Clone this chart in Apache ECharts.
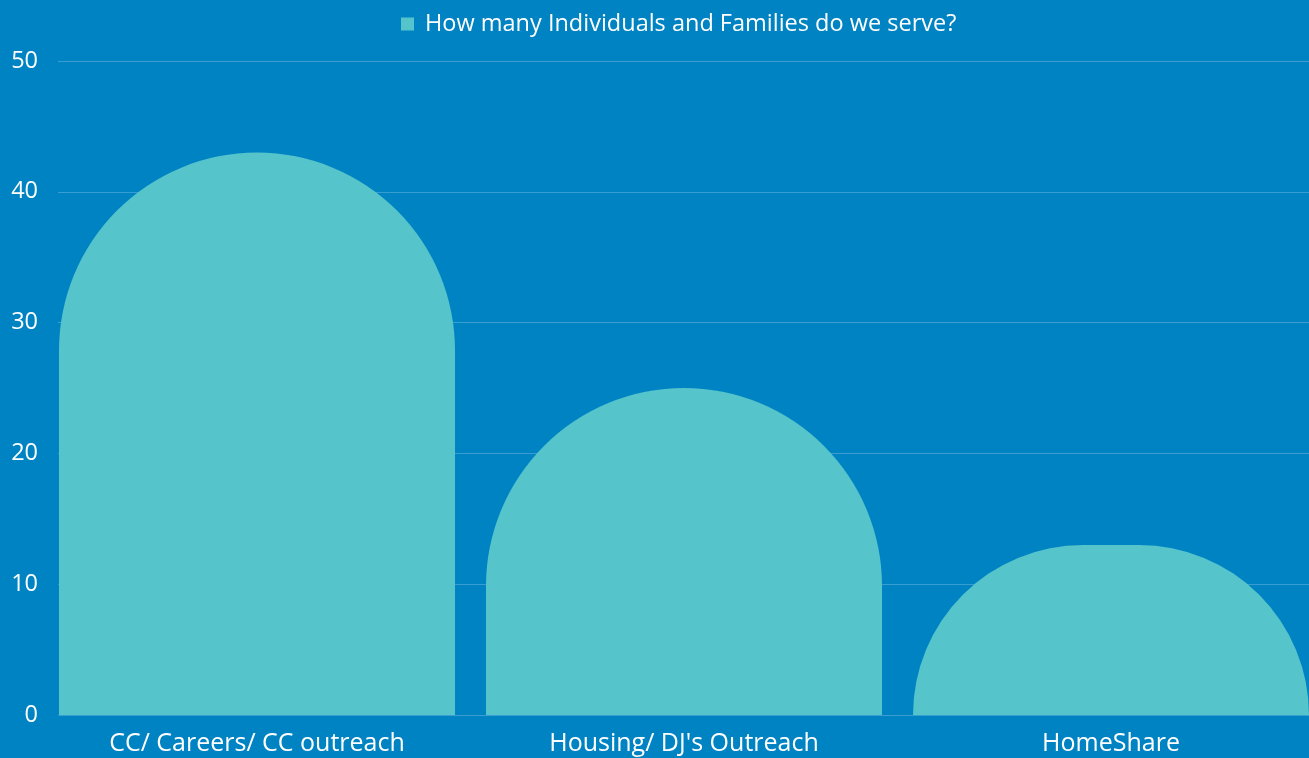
<!DOCTYPE html>
<html><head><meta charset="utf-8">
<script src="https://cdn.jsdelivr.net/npm/echarts@6/dist/echarts.min.js"></script>
<style>html,body{margin:0;padding:0;background:#0083C2;}#c{width:1309px;height:758px;}</style>
</head><body><div id="c"></div>
<script>
const categories = ["CC/ Careers/ CC outreach", "Housing/ DJ's Outreach", "HomeShare"];
const seriesName = "How many Individuals and Families do we serve?";
const values = [43, 25, 13];
const yTicks = [0, 10, 20, 30, 40, 50];

const FONT = "Open Sans";
const chart = echarts.init(document.getElementById('c'));
chart.setOption({
  backgroundColor: '#0083C2',
  animation: false,
  legend: {
    data: [seriesName], left: 396, top: 7, icon: 'rect', itemWidth: 13, itemHeight: 13, itemGap: 10,
    textStyle: { color: '#ffffff', fontSize: 23.5, fontFamily: FONT, padding: [0, 0, 0, 6] }
  },
  grid: [
    { left: 58, right: 0, top: 61, bottom: 43, outerBoundsMode: 'none' },
    { left: 43.5, right: -15.5, top: 61, bottom: 43, outerBoundsMode: 'none' }
  ],
  xAxis: [
    { gridIndex: 0, type: 'category', data: categories, show: false },
    { gridIndex: 1, type: 'category', data: categories,
      axisLine: { show: false }, axisTick: { show: false },
      axisLabel: { color: '#ffffff', fontSize: 25, fontFamily: FONT, margin: 16, interval: 0 } }
  ],
  yAxis: [
    { gridIndex: 0, type: 'value', min: yTicks[0], max: yTicks[yTicks.length - 1], interval: 10,
      axisLine: { show: false }, axisTick: { show: false },
      axisLabel: { color: '#ffffff', fontSize: 23.5, fontFamily: FONT, margin: 20 },
      splitLine: { lineStyle: { color: 'rgba(255,255,255,0.22)', width: 1 } } },
    { gridIndex: 1, type: 'value', min: yTicks[0], max: yTicks[yTicks.length - 1], interval: 10, show: false,
      splitLine: { show: false } }
  ],
  series: [{
    name: seriesName, type: 'bar', xAxisIndex: 1, yAxisIndex: 1, data: values,
    barWidth: 396,
    itemStyle: { color: '#55C4CB', borderRadius: [198, 198, 0, 0] }
  }]
});
</script></body></html>
